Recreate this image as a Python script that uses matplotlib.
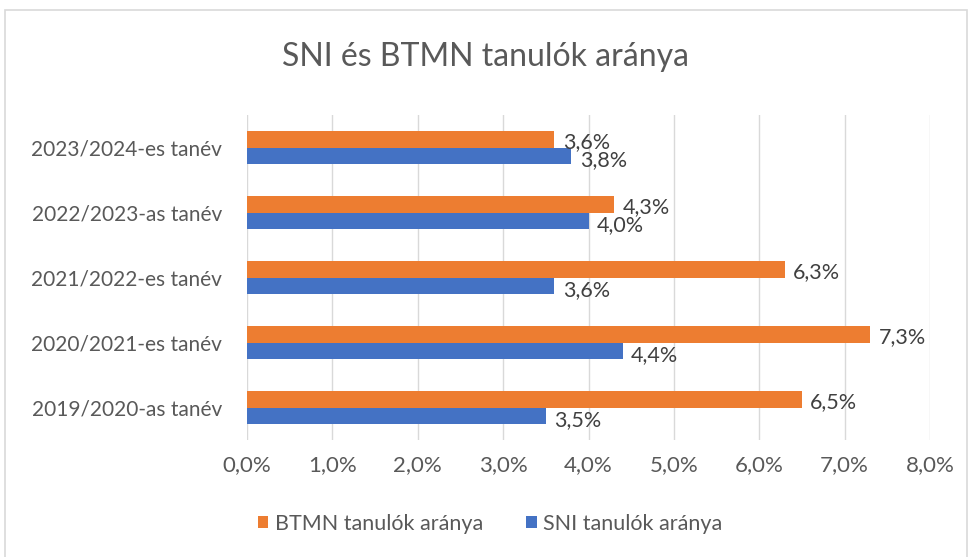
import matplotlib.pyplot as plt
import numpy as np
from matplotlib.patches import Rectangle
from matplotlib.ticker import FuncFormatter

plt.rcParams['font.family'] = ['Lato', 'DejaVu Sans']

# data (percent)
categories = ["2019/2020-as tanév", "2020/2021-es tanév", "2021/2022-es tanév",
              "2022/2023-as tanév", "2023/2024-es tanév"]
btmn = [6.5, 7.3, 6.3, 4.3, 3.6]
sni = [3.5, 4.4, 3.6, 4.0, 3.8]

orange = '#ED7D31'
blue = '#4472C4'
text_col = '#595959'

fig = plt.figure(figsize=(9.71, 5.57), dpi=100)
ax = fig.add_axes([0.2544, 0.21, 0.7034, 0.5835])

y = np.arange(len(categories))
h = 0.26
ax.barh(y + h / 2, btmn, height=h, color=orange, label='BTMN tanulók aránya', zorder=3)
ax.barh(y - h / 2, sni, height=h, color=blue, label='SNI tanulók aránya', zorder=3)

for i in range(len(categories)):
    ax.annotate(f"{btmn[i]:.1f}%".replace('.', ','), (btmn[i], y[i] + h / 2),
                xytext=(6, -2), textcoords='offset points', va='center', ha='left',
                fontsize=15.5, color='#404040')
    ax.annotate(f"{sni[i]:.1f}%".replace('.', ','), (sni[i], y[i] - h / 2),
                xytext=(6, -3), textcoords='offset points', va='center', ha='left',
                fontsize=15.5, color='#404040')

ax.set_xlim(0, 8)
ax.set_ylim(-0.5, len(categories) - 0.5)
ax.set_xticks(np.arange(0, 9, 1))
ax.xaxis.set_major_formatter(FuncFormatter(lambda v, p: f"{v:.1f}%".replace('.', ',')))
ax.set_yticks(y)
ax.set_yticklabels(categories)
ax.tick_params(axis='both', length=0, colors=text_col)
ax.tick_params(axis='x', pad=11, labelsize=16)
ax.tick_params(axis='y', pad=18, labelsize=15)
ax.grid(axis='x', color='#D9D9D9', linewidth=1, zorder=0)
for s in ax.spines.values():
    s.set_visible(False)

fig.text(0.5, 0.897, 'SNI és BTMN tanulók aránya', ha='center', va='center',
         fontsize=23, color=text_col)

ax.legend(loc='center', bbox_to_anchor=(490 / 971, 1 - 524 / 557),
          bbox_transform=fig.transFigure, ncol=2, frameon=False,
          fontsize=15.5, labelcolor=text_col, handlelength=0.5, handleheight=0.5,
          handletextpad=0.3, columnspacing=2.0)

fig.patches.append(Rectangle((5 / 971, -0.01), 962 / 971, 1 - 10 / 557 + 0.01,
                             transform=fig.transFigure, fill=False,
                             edgecolor='#D9D9D9', linewidth=1.2))

plt.savefig('out.png', dpi=100)
